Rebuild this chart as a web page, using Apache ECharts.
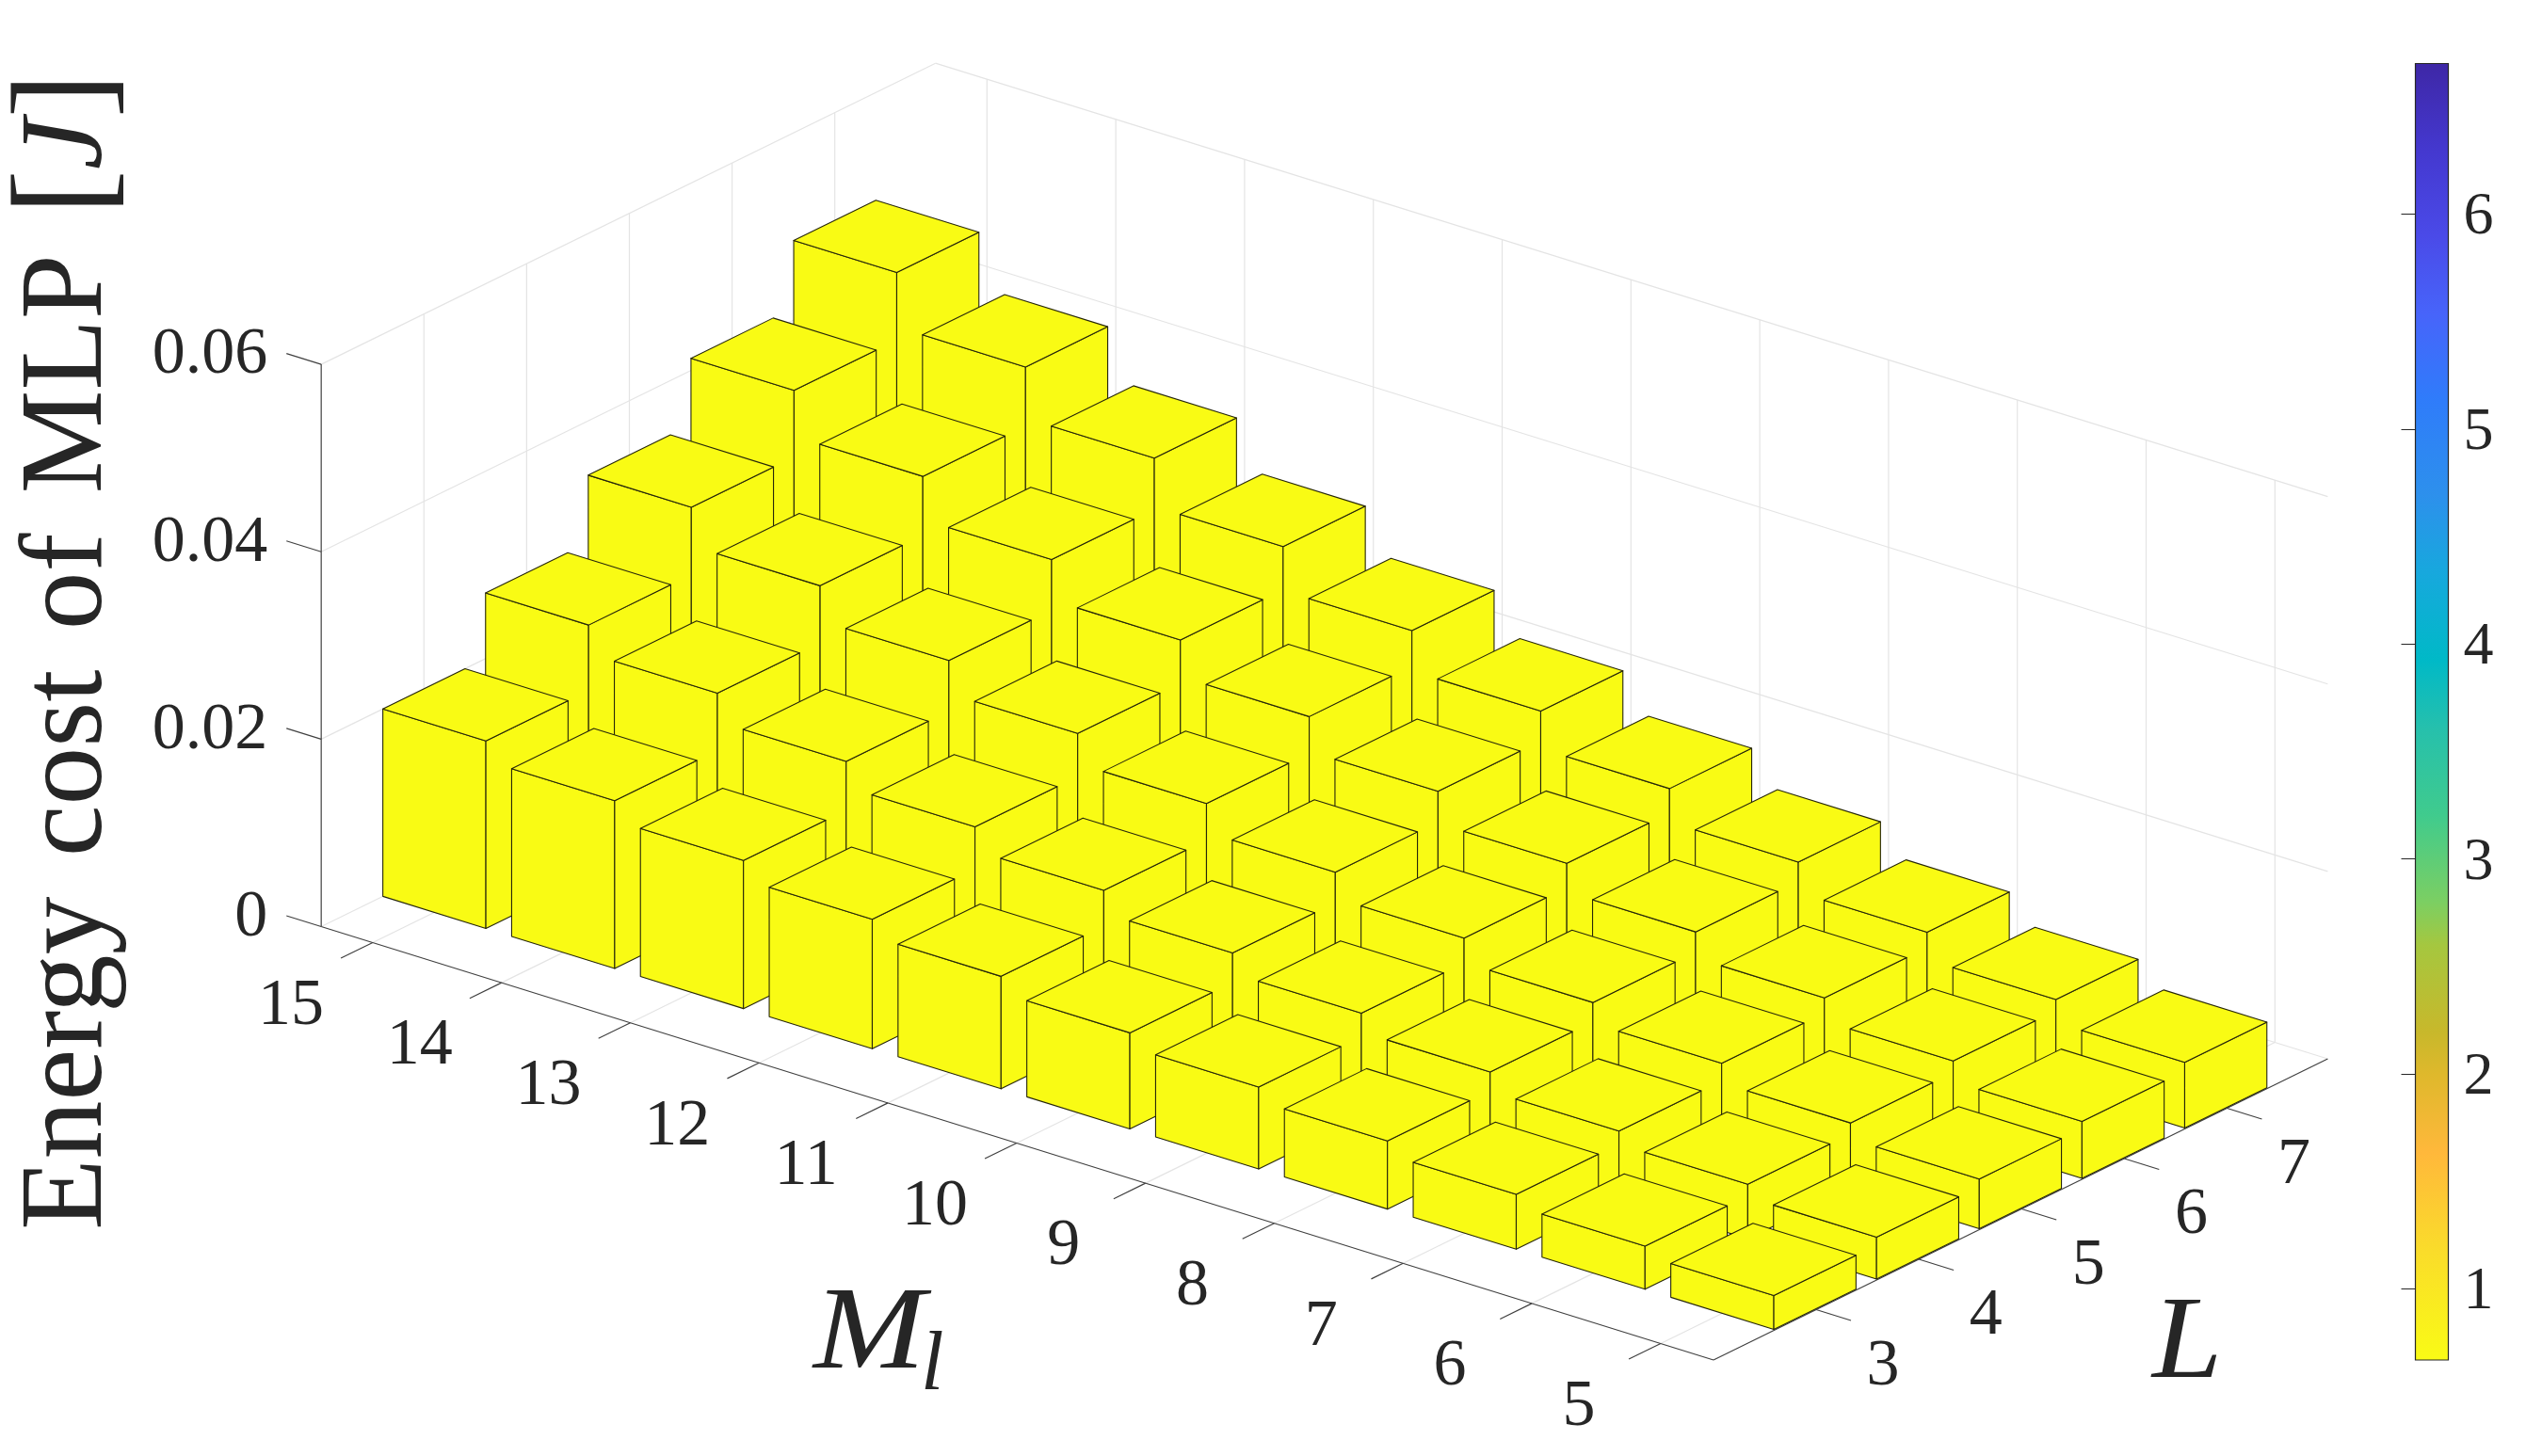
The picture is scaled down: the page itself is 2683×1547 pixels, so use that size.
<!DOCTYPE html>
<html>
<head>
<meta charset="utf-8">
<title>Energy cost of MLP</title>
<script src="https://cdn.jsdelivr.net/npm/echarts@6/dist/echarts.min.js"></script>
<style>
  html, body { margin: 0; padding: 0; background: #fff; }
  #chart { width: 2683px; height: 1547px; }
</style>
</head>
<body>
<div id="chart"></div>
<script>
// tick values
var mlTicks = [15, 14, 13, 12, 11, 10, 9, 8, 7, 6, 5];
var layerTicks = [3, 4, 5, 6, 7];
var energyTicks = [0, 0.02, 0.04, 0.06];
var energyTickLabels = ["0", "0.02", "0.04", "0.06"];
var colorbarTicks = [1, 2, 3, 4, 5, 6];

// bar heights, same order as mlTicks (M_l = 15 ... 5)
var energyL3 = [0.0200, 0.0179, 0.0158, 0.0138, 0.0120, 0.01025, 0.00875, 0.00727, 0.00584, 0.0046, 0.0036];
var energyL4 = [0.0270, 0.0240, 0.0210, 0.0183, 0.0158, 0.0134, 0.01125, 0.00926, 0.00723, 0.00583, 0.00447];
var energyL5 = [0.0342, 0.0301, 0.0264, 0.0229, 0.0197, 0.01665, 0.0139, 0.0113, 0.00908, 0.0070, 0.0053];
var energyL6 = [0.0413, 0.0364, 0.0318, 0.0275, 0.0236, 0.0199, 0.0165, 0.01346, 0.0107, 0.00824, 0.00607];
var energyL7 = [0.0485, 0.0427, 0.03725, 0.0321, 0.0274, 0.0231, 0.0191, 0.01554, 0.01233, 0.00942, 0.0070];

// colorbar
var colorbarRange = [0.67, 6.7];
var colorbarOffsets = [0, 0.087, 0.16, 0.22, 0.253, 0.32, 0.353, 0.42, 0.487, 0.54, 0.607, 0.667, 0.74, 0.807, 0.867, 0.933, 1];
var colorbarColors = ["#f9fb15", "#fadb2b", "#ffb83b", "#dfb82c", "#c8b82b", "#a5c73f", "#7ccf62", "#40cb8d", "#26c0ac", "#00b9c7", "#17a8dd", "#2d90ec", "#2f7cfa", "#4764fa", "#4a4ae8", "#4438cf", "#3e27a6"];

// axis limits of the 3d box
var mlMin = 4.59, mlMax = 15.4, layerMin = 2, layerMax = 7.98, energyMax = 0.06;
var barHalf = 0.4;

// view: fixed oblique projection, screen position of (M_l, L, energy)
var origin = [1873, 1374];
var mlStep = [-136.8, -42.6];
var layerStep = [109.1, -53.5];
var energyStep = -9956;

function project(m, l, z) {
  var dm = m - 5, dl = l - 3;
  return [
    origin[0] + dm * mlStep[0] + dl * layerStep[0],
    origin[1] + dm * mlStep[1] + dl * layerStep[1] + z * energyStep
  ];
}

var textColor = "#262626";
var gridColor = "#e4e4e4";
var barColor = "#f9fb14";
var edgeColor = "#26260a";

// build series data
var barData = [];
var energyRows = [energyL7, energyL6, energyL5, energyL4, energyL3];
var rowLayers = [7, 6, 5, 4, 3];
rowLayers.forEach(function (l, r) {
  mlTicks.forEach(function (m, i) {
    barData.push([m, l, energyRows[r][i]]);
  });
});

var gridLines = [];
energyTicks.forEach(function (z) {
  gridLines.push([mlMax, layerMin, z, mlMax, layerMax, z]);
  gridLines.push([mlMax, layerMax, z, mlMin, layerMax, z]);
});
mlTicks.forEach(function (m) {
  gridLines.push([m, layerMin, 0, m, layerMax, 0]);
  gridLines.push([m, layerMax, 0, m, layerMax, energyMax]);
});
layerTicks.forEach(function (l) {
  gridLines.push([mlMax, l, 0, mlMin, l, 0]);
  gridLines.push([mlMax, l, 0, mlMax, l, energyMax]);
});

var axisLines = [
  [mlMax, layerMin, 0, mlMin, layerMin, 0],
  [mlMin, layerMin, 0, mlMin, layerMax, 0],
  [mlMax, layerMin, 0, mlMax, layerMin, energyMax]
];
mlTicks.forEach(function (m) {
  axisLines.push([m, layerMin, 0, m, layerMin - 0.31, 0]);
});
layerTicks.forEach(function (l) {
  axisLines.push([mlMin, l, 0, mlMin - 0.27, l, 0]);
});
energyTicks.forEach(function (z) {
  axisLines.push([mlMax, layerMin, z, mlMax + 0.27, layerMin, z]);
});

function lineItem(params, api) {
  var a = project(api.value(0), api.value(1), api.value(2));
  var b = project(api.value(3), api.value(4), api.value(5));
  var p1 = api.coord(a), p2 = api.coord(b);
  return {
    type: "line",
    shape: { x1: p1[0], y1: p1[1], x2: p2[0], y2: p2[1] },
    style: { stroke: params.seriesName === "grid3d" ? gridColor : "#404040", lineWidth: 1.2 }
  };
}

function barItem(params, api) {
  var m = api.value(0), l = api.value(1), z = api.value(2);
  var h = barHalf;
  function c(mm, ll, zz) { return api.coord(project(mm, ll, zz)); }
  var style = { fill: barColor, stroke: edgeColor, lineWidth: 1.1, lineJoin: "round" };
  return {
    type: "group",
    children: [
      { type: "polygon", shape: { points: [c(m + h, l - h, 0), c(m - h, l - h, 0), c(m - h, l - h, z), c(m + h, l - h, z)] }, style: style },
      { type: "polygon", shape: { points: [c(m - h, l - h, 0), c(m - h, l + h, 0), c(m - h, l + h, z), c(m - h, l - h, z)] }, style: style },
      { type: "polygon", shape: { points: [c(m + h, l - h, z), c(m - h, l - h, z), c(m - h, l + h, z), c(m + h, l + h, z)] }, style: style }
    ]
  };
}

// tick labels sit a fixed offset away from their axis point
function labelItem(params, api) {
  var p = api.coord(project(api.value(0), api.value(1), api.value(2)));
  return {
    type: "text",
    x: p[0] + api.value(3),
    y: p[1] + api.value(4),
    style: {
      text: labelTexts[params.dataIndex],
      font: "70px 'Liberation Serif'",
      fill: textColor,
      align: api.value(5) ? "right" : "center",
      verticalAlign: "middle"
    }
  };
}

var labelTexts = [];
var labelData = [];
mlTicks.forEach(function (m) {
  labelTexts.push(String(m));
  labelData.push([m, layerMin, 0, -87, 68, 0]);
});
layerTicks.forEach(function (l) {
  labelTexts.push(String(l));
  labelData.push([mlMin, l, 0, 71, 61, 0]);
});
energyTicks.forEach(function (z, i) {
  labelTexts.push(energyTickLabels[i]);
  labelData.push([mlMax, layerMin, z, -57, -9, 1]);
});

var chart = echarts.init(document.getElementById("chart"));
chart.setOption({
  backgroundColor: "#fff",
  animation: false,
  grid: [
    { left: 0, top: 0, width: 2683, height: 1547 },
    { left: 2565.5, top: 67.5, width: 35, height: 1377.5 }
  ],
  xAxis: [
    { type: "value", gridIndex: 0, min: 0, max: 2683, show: false },
    { type: "value", gridIndex: 1, min: 0, max: 1, show: false }
  ],
  yAxis: [
    { type: "value", gridIndex: 0, min: 0, max: 1547, inverse: true, show: false },
    {
      type: "value",
      gridIndex: 1,
      position: "right",
      min: colorbarRange[0],
      max: colorbarRange[1],
      z: 5,
      splitLine: { show: false },
      axisLine: { show: false },
      axisTick: { show: true, inside: true, length: 15, customValues: colorbarTicks, lineStyle: { color: "#262626", width: 1 } },
      axisLabel: {
        show: true,
        customValues: colorbarTicks,
        margin: 16,
        color: textColor,
        formatter: "{v|{value}}",
        rich: { v: { fontSize: 64, fontFamily: "Liberation Serif", color: textColor, padding: [8, 0, 0, 0] } }
      }
    }
  ],
  series: [
    { name: "grid3d", type: "custom", xAxisIndex: 0, yAxisIndex: 0, silent: true, z: 1, data: gridLines, renderItem: lineItem },
    { name: "axes3d", type: "custom", xAxisIndex: 0, yAxisIndex: 0, silent: true, z: 2, data: axisLines, renderItem: lineItem },
    { name: "energy", type: "custom", xAxisIndex: 0, yAxisIndex: 0, silent: true, z: 3, data: barData, renderItem: barItem },
    { name: "ticklabels", type: "custom", xAxisIndex: 0, yAxisIndex: 0, silent: true, z: 4, data: labelData, renderItem: labelItem },
    {
      name: "colorbar",
      type: "custom",
      xAxisIndex: 1,
      yAxisIndex: 1,
      silent: true,
      z: 1,
      data: [[0, colorbarRange[0], 1, colorbarRange[1]]],
      renderItem: function (params, api) {
        var a = api.coord([api.value(0), api.value(1)]);
        var b = api.coord([api.value(2), api.value(3)]);
        var stops = colorbarOffsets.map(function (o, i) {
          return { offset: o, color: colorbarColors[i] };
        });
        return {
          type: "rect",
          shape: { x: a[0], y: b[1], width: b[0] - a[0], height: a[1] - b[1] },
          style: {
            fill: new echarts.graphic.LinearGradient(0, 1, 0, 0, stops),
            stroke: "#262626",
            lineWidth: 1.2
          }
        };
      }
    }
  ],
  graphic: [
    {
      type: "text",
      x: 74,
      y: 692,
      rotation: Math.PI / 2,
      scaleX: 0.995,
      style: {
        text: "{a|Energy}{s| }{a|cost}{s| }{a|of}{s| }{a|MLP}{s| }{c|[}{b|J}{c|]}",
        align: "center",
        verticalAlign: "middle",
        fill: textColor,
        rich: {
          a: { font: "124px 'Liberation Serif'", fill: textColor, lineHeight: 140 },
          b: { font: "italic 124px 'Liberation Serif'", fill: textColor, lineHeight: 140 },
          c: { font: "145px 'Liberation Serif'", fill: textColor, lineHeight: 140 },
          s: { font: "170px 'Liberation Serif'", fill: textColor, lineHeight: 140 }
        }
      }
    },
    {
      type: "text",
      x: 864,
      y: 1420,
      scaleX: 1.15,
      style: { text: "M", font: "italic 124px 'Liberation Serif'", fill: textColor, align: "left", verticalAlign: "middle" }
    },
    {
      type: "text",
      x: 978,
      y: 1453,
      style: { text: "l", font: "italic 88px 'Liberation Serif'", fill: textColor, align: "left", verticalAlign: "middle" }
    },
    {
      type: "text",
      x: 2286,
      y: 1430,
      scaleX: 1.08,
      style: { text: "L", font: "italic 124px 'Liberation Serif'", fill: textColor, align: "left", verticalAlign: "middle" }
    }
  ]
});
</script>
</body>
</html>
